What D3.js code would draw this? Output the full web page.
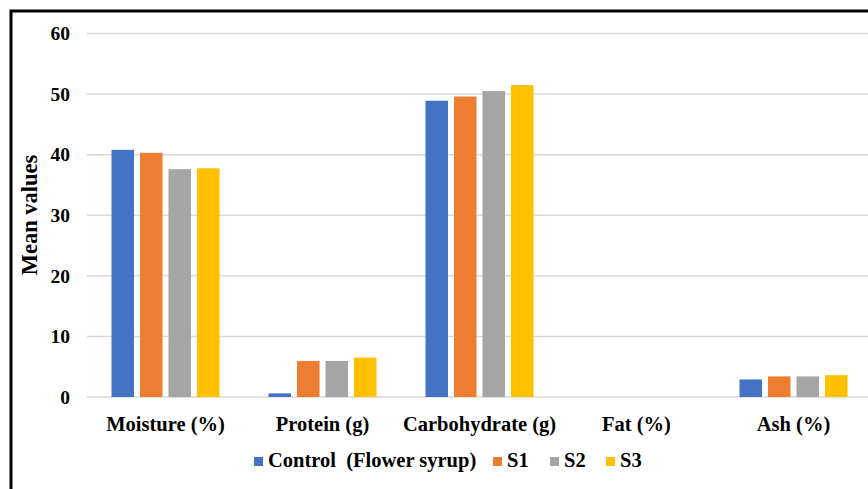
<!DOCTYPE html>
<html><head><meta charset="utf-8">
<script src="https://cdn.jsdelivr.net/npm/d3@7"></script>
<style>
html,body{margin:0;padding:0;background:#fff;}
svg{display:block;font-family:"Liberation Serif","Times New Roman",serif;font-weight:bold;}
</style></head>
<body>
<svg id="chart" width="868" height="489"></svg>
<script>
const categories = ["Moisture (%)", "Protein (g)", "Carbohydrate (g)", "Fat (%)", "Ash (%)"];
const seriesNames = ["Control\u00a0\u00a0(Flower syrup)", "S1", "S2", "S3"];
const control = [40.8, 0.6, 48.9, 0, 2.9];
const s1 = [40.3, 5.95, 49.6, 0, 3.4];
const s2 = [37.6, 5.95, 50.5, 0, 3.4];
const s3 = [37.75, 6.5, 51.5, 0, 3.6];
const yTicks = [0, 10, 20, 30, 40, 50, 60];
const colors = ["#4472c4", "#ed7d31", "#a5a5a5", "#ffc000"];

const seriesValues = [control, s1, s2, s3];
const svg = d3.select("#chart");
const W = 868, H = 489;
svg.append("rect").attr("width", W).attr("height", H).attr("fill", "#fff");

const plotL = 87, plotR = 872, plotTop = 33.5, plotBot = 397;
const y = d3.scaleLinear().domain([0, 60]).range([plotBot, plotTop]);
const x0 = d3.scaleBand().domain(categories).range([plotL, plotR]).paddingInner(0.312).paddingOuter(0.156);
const x1 = d3.scaleBand().domain(d3.range(4)).range([0, x0.bandwidth()]).paddingInner(0.21);

// gridlines
svg.append("g").selectAll("line").data(yTicks).join("line")
  .attr("x1", plotL).attr("x2", W)
  .attr("y1", d => y(d)).attr("y2", d => y(d))
  .attr("stroke", "#d9d9d9").attr("stroke-width", 1.5);

// y tick labels
const yAxis = d3.axisLeft(y).tickValues(yTicks).tickSize(0).tickPadding(0);
const ya = svg.append("g").attr("transform", `translate(70,0)`).call(yAxis);
ya.select(".domain").remove();
ya.selectAll("text").attr("font-size", 19.5).attr("font-family", "Liberation Serif, serif").attr("font-weight", "bold").attr("fill", "#000");

// bars
const groups = svg.append("g").selectAll("g").data(categories).join("g")
  .attr("transform", d => `translate(${x0(d)},0)`);
groups.selectAll("rect").data((d, i) => seriesValues.map((s, k) => ({k, v: s[i]})))
  .join("rect")
  .attr("x", d => x1(d.k)).attr("width", x1.bandwidth())
  .attr("y", d => y(d.v)).attr("height", d => plotBot - y(d.v))
  .attr("fill", d => colors[d.k]);

// x axis labels
const xAxis = d3.axisBottom(x0).tickSize(0).tickPadding(0);
const xa = svg.append("g").attr("transform", `translate(0,${plotBot})`).call(xAxis);
xa.select(".domain").remove();
xa.selectAll("text").attr("font-size", 20.5).attr("font-family", "Liberation Serif, serif").attr("font-weight", "bold").attr("fill", "#000")
  .attr("dy", null).attr("y", 34);

// y title
svg.append("text").attr("transform", "translate(37,215) rotate(-90)")
  .attr("text-anchor", "middle").attr("font-size", 22.5).attr("fill", "#000").text("Mean values");

// legend
const legendX = [254, 493, 550, 606];
const lg = svg.append("g").selectAll("g").data(seriesNames).join("g")
  .attr("transform", (d, i) => `translate(${legendX[i]},467)`);
lg.append("rect").attr("x", 0).attr("y", -10).attr("width", 9).attr("height", 9).attr("fill", (d, i) => colors[i]);
lg.append("text").attr("x", 14).attr("y", 0).attr("font-size", 20.5).attr("fill", "#000").text(d => d);

// border
svg.append("path").attr("d", `M11,${H} L11,11 L${W},11`).attr("fill", "none").attr("stroke", "#000").attr("stroke-width", 3);
</script>
</body></html>
